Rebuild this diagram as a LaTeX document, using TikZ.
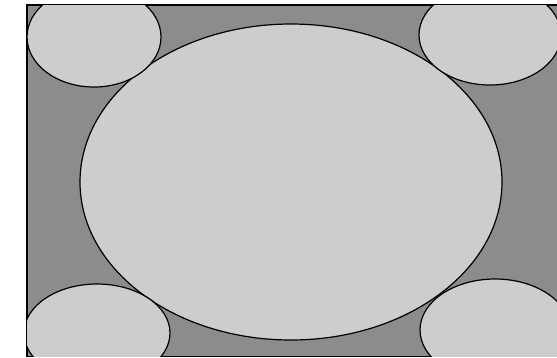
\documentclass[tikz,border=0pt]{standalone}
\begin{document}
\begin{tikzpicture}[x=1pt,y=-1pt,
  blob/.style={fill=lightfill,draw=black,line width=1.2pt}]
\definecolor{darkfill}{HTML}{8C8C8C}
\definecolor{lightfill}{HTML}{CDCDCD}
\useasboundingbox (0,0) rectangle (557,357);
\clip (0,0) rectangle (557,357);
\draw[fill=darkfill,line width=1.2pt] (27,5) rectangle (560,356.5);
\begin{scope}
\clip (27,5) rectangle (560,356.5);
\draw[blob] (291,182) ellipse [x radius=211, y radius=158];
\draw[blob] (94,37) ellipse [x radius=67, y radius=50];
\draw[blob] (490,35) ellipse [x radius=71, y radius=50];
\draw[blob] (97,333) ellipse [x radius=73, y radius=49];
\draw[blob] (495,330) ellipse [x radius=75, y radius=51];
\end{scope}
\end{tikzpicture}
\end{document}
